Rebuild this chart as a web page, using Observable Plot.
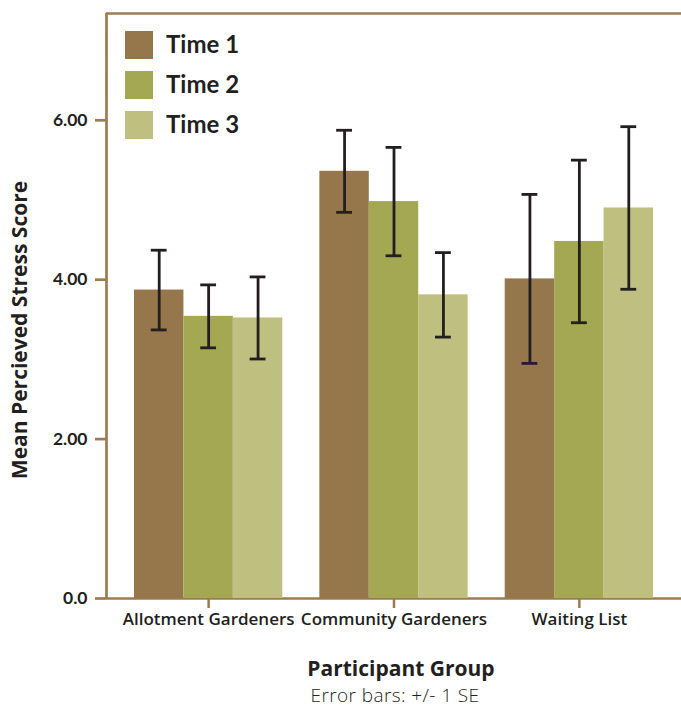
<!DOCTYPE html>
<html>
<head>
<meta charset="utf-8">
<script src="https://cdn.jsdelivr.net/npm/d3@7"></script>
<script src="https://cdn.jsdelivr.net/npm/@observablehq/plot@0.6"></script>
<style>
  body { margin: 0; background: #fff; }
  #wrap { position: relative; width: 681px; height: 708px; overflow: hidden; font-family: "Open Sans", sans-serif; color: #231f20; }
  #legend { position: absolute; left: 125px; top: 31px; }
  .item { display: flex; align-items: center; height: 28px; margin-bottom: 12px; }
  .sw { width: 28px; height: 28px; margin-right: 13px; }
  .lab { font-family: "Lato", sans-serif; font-weight: 700; font-size: 24px; color: #231f20; position: relative; top: -2px; }
  #caption { position: absolute; left: 0; top: 685px; width: 790px; text-align: center; font-family: "Open Sans", sans-serif; font-weight: 300; font-size: 19px; letter-spacing: 0.4px; line-height: 20px; color: #231f20; }
</style>
</head>
<body>
<div id="wrap">
  <div id="chart"></div>
  <div id="legend"></div>
  <div id="caption">Error bars: +/- 1 SE</div>
</div>
<script>
const groups = ["Allotment Gardeners", "Community Gardeners", "Waiting List"];
const times = ["Time 1", "Time 2", "Time 3"];
const time1 = [3.87, 5.36, 4.01];
const time2 = [3.54, 4.98, 4.48];
const time3 = [3.52, 3.81, 4.90];
const se1 = [0.50, 0.515, 1.06];
const se2 = [0.395, 0.68, 1.02];
const se3 = [0.515, 0.53, 1.02];
const colors = ["#96764b", "#a4a853", "#bfc07f"];
const yTicks = [0, 2, 4, 6];
const yTickLabels = ["0.0", "2.00", "4.00", "6.00"];
const yTitle = "Mean Percieved Stress Score";
const xTitle = "Participant Group";

const axisColor = "#9b7b50";
const ink = "#231f20";
const groupWidth = 0.8;
const barW = groupWidth / 3;
const capHalf = barW * 0.16;
const xDomain = [-0.151, 2.951];
const yDomain = [0, 7.34];

const means = [time1, time2, time3];
const ses = [se1, se2, se3];
const rows = [];
groups.forEach((g, gi) => {
  times.forEach((t, ti) => {
    const m = means[ti][gi], s = ses[ti][gi];
    const x1 = gi + ti * barW, x2 = x1 + barW;
    rows.push({group: g, time: t, mean: m, se: s, x1, x2, xc: (x1 + x2) / 2, lo: m - s, hi: m + s});
  });
});

const groupCenters = groups.map((g, i) => i + groupWidth / 2);

const chart = Plot.plot({
  width: 681,
  height: 686,
  marginTop: 13,
  marginLeft: 106,
  marginRight: 0,
  marginBottom: 88,
  style: {background: "transparent", color: ink},
  x: {type: "linear", domain: xDomain, axis: null},
  y: {domain: yDomain, axis: null},
  color: {domain: times, range: colors},
  marks: [
    Plot.ruleY([yDomain[1]], {stroke: axisColor, strokeWidth: 2.7}),
    Plot.ruleY([0], {stroke: axisColor, strokeWidth: 2.7}),
    Plot.ruleX([xDomain[0]], {stroke: axisColor, strokeWidth: 2.7}),
    Plot.axisY({
      ticks: yTicks,
      tickFormat: d => yTickLabels[yTicks.indexOf(d)],
      tickSize: 11, tickPadding: 8,
      stroke: axisColor, strokeWidth: 2.7,
      fill: ink, fontSize: 17.5, fontFamily: "Lato", fontWeight: 700,
      label: null
    }),
    Plot.axisX({
      ticks: groupCenters,
      tickFormat: d => groups[groupCenters.indexOf(d)],
      tickSize: 10, tickPadding: 4,
      stroke: axisColor, strokeWidth: 2.5,
      fill: ink, fontSize: 17, fontFamily: "Open Sans", fontWeight: 600,
      label: null
    }),
    Plot.rect(rows, {x1: "x1", x2: "x2", y1: 0, y2: "mean", fill: "time"}),
    Plot.ruleX(rows, {x: "xc", y1: "lo", y2: "hi", stroke: ink, strokeWidth: 2.8}),
    Plot.ruleY(rows, {y: "hi", x1: d => d.xc - capHalf, x2: d => d.xc + capHalf, stroke: ink, strokeWidth: 2.8}),
    Plot.ruleY(rows, {y: "lo", x1: d => d.xc - capHalf, x2: d => d.xc + capHalf, stroke: ink, strokeWidth: 2.8}),
    Plot.text([yTitle], {frameAnchor: "left", textAnchor: "middle", rotate: -90, dx: -86, dy: 24, fontSize: 21, fontWeight: 700, fontFamily: "Open Sans", fill: ink}),
    Plot.text([xTitle], {frameAnchor: "bottom", dx: 7, dy: 77, fontSize: 21, fontWeight: 700, fontFamily: "Open Sans", fill: ink})
  ]
});
document.getElementById("chart").appendChild(chart);

const legend = document.getElementById("legend");
times.forEach((t, i) => {
  const item = document.createElement("div");
  item.className = "item";
  const sw = document.createElement("div");
  sw.className = "sw";
  sw.style.background = colors[i];
  const lab = document.createElement("span");
  lab.className = "lab";
  lab.textContent = t;
  item.appendChild(sw);
  item.appendChild(lab);
  legend.appendChild(item);
});
</script>
</body>
</html>
